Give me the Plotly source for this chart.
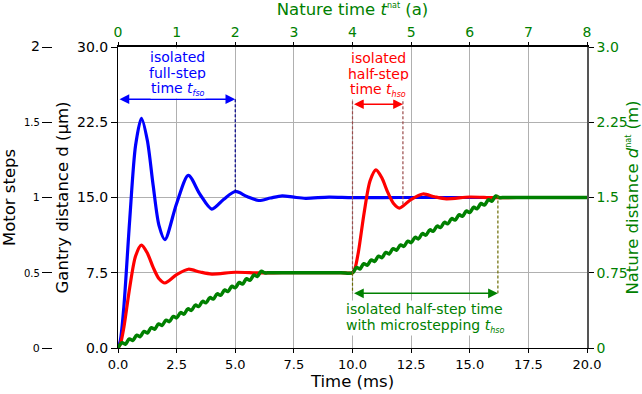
import plotly.graph_objects as go

# ---------------- data ----------------
# Blue: isolated full-step response (gantry distance, µm) vs time (ms)
blue_t = [0, 0.1, 0.25, 0.5, 0.75, 1.0, 1.25, 1.5, 1.75, 2.0, 2.5, 3.0, 3.5, 4.0, 4.5,
          5.0, 5.5, 6.0, 6.5, 7.0, 7.5, 8.0, 9.0, 10.0, 12.0, 14.0, 16.0, 18.0, 20.0]
blue_d = [0.0, 0.75, 4.1, 12.8, 20.2, 22.9, 20.7, 16.2, 12.2, 10.8, 14.4, 17.2, 15.3, 13.85, 14.8,
          15.6, 15.1, 14.7, 14.95, 15.17, 15.03, 14.92, 15.04, 14.98, 15.0, 15.0, 15.0, 15.0, 15.0]

# Red: two isolated half-steps
red_t = [0, 0.1, 0.25, 0.5, 0.75, 1.0, 1.25, 1.5, 1.75, 2.0, 2.5, 3.0, 3.5, 4.0, 5.0, 6.0, 7.0,
         8.0, 9.0, 9.5, 10.0, 10.1, 10.25, 10.5, 10.75, 11.0, 11.25, 11.5, 11.75, 12.0, 12.5, 13.0,
         13.5, 14.0, 15.0, 16.0, 17.0, 18.0, 20.0]
red_d = [0.0, 0.38, 2.05, 6.04, 9.17, 10.25, 9.46, 8.03, 6.90, 6.48, 7.31, 7.85, 7.57, 7.37, 7.55,
         7.48, 7.5, 7.5, 7.5, 7.5, 7.5, 7.88, 9.55, 13.54, 16.67, 17.75, 16.96, 15.53, 14.40, 13.95,
         14.81, 15.35, 15.07, 14.87, 15.05, 14.98, 15.0, 15.0, 15.0]

# Green: half-steps with microstepping (rippled ramps)
green_t = [0, 0.17, 0.3125, 0.48, 0.625, 0.8, 0.9375, 1.11, 1.25, 1.42, 1.5625, 1.73,
           1.875, 2.05, 2.1875, 2.36, 2.5, 2.67, 2.8125, 2.98, 3.125, 3.3, 3.4375, 3.61,
           3.75, 3.92, 4.0625, 4.23, 4.375, 4.55, 4.6875, 4.86, 5.0, 5.17, 5.3125, 5.48,
           5.625, 5.8, 5.9375, 6.11, 6.25, 6.5, 8.0, 9.5,
           10.0, 10.17, 10.3125, 10.48, 10.625, 10.8, 10.9375, 11.11, 11.25, 11.42, 11.5625,
           11.73, 11.875, 12.05, 12.1875, 12.36, 12.5, 12.67, 12.8125, 12.98, 13.125, 13.3,
           13.4375, 13.61, 13.75, 13.92, 14.0625, 14.23, 14.375, 14.55, 14.6875, 14.86, 15.0,
           15.17, 15.3125, 15.48, 15.625, 15.8, 15.9375, 16.11, 16.25, 16.5, 18.0, 20.0]
green_d = [0.0, 0.525, 0.375, 0.9, 0.75, 1.275, 1.125, 1.65, 1.5, 2.025, 1.875, 2.4,
           2.25, 2.775, 2.625, 3.15, 3.0, 3.525, 3.375, 3.9, 3.75, 4.275, 4.125, 4.65,
           4.5, 5.025, 4.875, 5.4, 5.25, 5.775, 5.625, 6.15, 6.0, 6.525, 6.375, 6.9,
           6.75, 7.275, 7.125, 7.65, 7.5, 7.5, 7.5, 7.5,
           7.5, 8.025, 7.875, 8.4, 8.25, 8.775, 8.625, 9.15, 9.0, 9.525, 9.375,
           9.9, 9.75, 10.275, 10.125, 10.65, 10.5, 11.025, 10.875, 11.4, 11.25, 11.775,
           11.625, 12.15, 12.0, 12.525, 12.375, 12.9, 12.75, 13.275, 13.125, 13.65, 13.5,
           14.025, 13.875, 14.4, 14.25, 14.775, 14.625, 15.15, 15.0, 15.0, 15.0, 15.0]

# Tick values / labels
time_ticks = [0, 2.5, 5, 7.5, 10, 12.5, 15, 17.5, 20]
time_labels = ["0.0", "2.5", "5.0", "7.5", "10.0", "12.5", "15.0", "17.5", "20.0"]
gantry_ticks = [0, 7.5, 15, 22.5, 30]
gantry_labels = ["0.0", "7.5", "15.0", "22.5", "30.0"]
nat_time_ticks = [0, 1, 2, 3, 4, 5, 6, 7, 8]
nat_dist_ticks = [0, 0.75, 1.5, 2.25, 3.0]
nat_dist_labels = ["0", "0.75", "1.5", "2.25", "3.0"]
motor_ticks = [0, 0.5, 1, 1.5, 2]
motor_labels = ["<span style='font-size:11px'>0</span>",
                "<span style='font-size:10px'>0.5</span>",
                "<span style='font-size:11px'>1</span>",
                "<span style='font-size:10px'>1.5</span>",
                "<span style='font-size:14px'>2</span>"]

# annotation anchors (data coordinates)
fso_end = 5.0
hso_start, hso_end = 10.0, 12.15
micro_end = 16.2

FONT = "DejaVu Sans"
GREEN = "#008000"

fig = go.Figure()
fig.add_trace(go.Scatter(x=blue_t, y=blue_d, mode="lines",
                         line=dict(color="#0000ff", width=3.2, shape="spline", smoothing=0.8),
                         hoverinfo="skip"))
fig.add_trace(go.Scatter(x=red_t, y=red_d, mode="lines",
                         line=dict(color="#ff0000", width=3.2, shape="spline", smoothing=0.8),
                         hoverinfo="skip"))
fig.add_trace(go.Scatter(x=green_t, y=green_d, mode="lines",
                         line=dict(color=GREEN, width=3.5, shape="spline", smoothing=1.0),
                         hoverinfo="skip"))
# invisible traces to activate secondary axes
fig.add_trace(go.Scatter(x=[0], y=[0], xaxis="x2", yaxis="y2", mode="markers",
                         marker=dict(opacity=0), hoverinfo="skip"))
fig.add_trace(go.Scatter(x=[0], y=[0], xaxis="x", yaxis="y3", mode="markers",
                         marker=dict(opacity=0), hoverinfo="skip"))

L, R, T, B = 5, 55, 47, 46
W, H = 642, 394
pw = W - L - R
x0 = (118 - L) / pw
motor_pos = (52 - L) / pw

fig.update_layout(
    width=W, height=H,
    margin=dict(l=L, r=R, t=T, b=B, autoexpand=False),
    paper_bgcolor="white", plot_bgcolor="white", showlegend=False,
    font=dict(family=FONT, color="black"),
    xaxis=dict(domain=[x0, 1], range=[0, 20], tickmode="array", tickvals=time_ticks,
               ticktext=time_labels, ticks="outside", ticklen=4, tickcolor="black",
               showline=True, linecolor="black", linewidth=1, showgrid=True,
               gridcolor="#b0b0b0", gridwidth=1, zeroline=False, automargin=False,
               tickfont=dict(size=13), anchor="y",
               title=dict(text="Time (ms)", font=dict(size=16.5), standoff=4)),
    yaxis=dict(domain=[0, 1], range=[0, 30], tickmode="array", tickvals=gantry_ticks,
               ticktext=gantry_labels, ticks="outside", ticklen=6, tickcolor="black",
               showline=True, linecolor="black", linewidth=1, showgrid=True,
               gridcolor="#b0b0b0", gridwidth=1, zeroline=False, automargin=False,
               tickfont=dict(size=14), anchor="x",
               title=dict(text="Gantry distance d (µm)", font=dict(size=16.5), standoff=4)),
    xaxis2=dict(overlaying="x", side="top", range=[0, 8], tickmode="array",
                tickvals=nat_time_ticks, ticks="outside", ticklen=3, tickcolor="black",
                showline=True, linecolor="black", linewidth=1.5, showgrid=False,
                zeroline=False, automargin=False, anchor="y",
                tickfont=dict(size=14, color=GREEN),
                title=dict(text="Nature time <i>t</i><sup><span style='font-size:8px'>nat</span></sup> (a)",
                           font=dict(size=16.5, color=GREEN), standoff=6)),
    yaxis2=dict(overlaying="y", side="right", range=[0, 3], tickmode="array",
                tickvals=nat_dist_ticks, ticktext=nat_dist_labels, ticks="outside",
                ticklen=5, tickcolor="black", showline=True, linecolor="#555555",
                linewidth=1.5, showgrid=False, zeroline=False, automargin=False,
                anchor="x", tickfont=dict(size=14, color=GREEN),
                title=dict(text="Nature distance <i>d</i><sup><span style='font-size:8px'>nat</span></sup> (m)",
                           font=dict(size=16.5, color=GREEN), standoff=3)),
    yaxis3=dict(overlaying="y", anchor="free", position=motor_pos, side="left",
                range=[0, 2], tickmode="array", tickvals=motor_ticks, ticktext=motor_labels,
                ticks="outside", ticklen=10, tickcolor="black", showline=False,
                showgrid=False, zeroline=False, automargin=False,
                tickfont=dict(size=11),
                title=dict(text="Motor steps", font=dict(size=16.5), standoff=3)),
)

# dashed guide lines
def vline(x, y0, y1, color):
    fig.add_shape(type="line", xref="x", yref="y", x0=x, x1=x, y0=y0, y1=y1,
                  line=dict(color=color, width=1.2, dash="3px,2px"))

vline(fso_end, 24.8, 15.6, "#00008b")
vline(hso_start, 25.1, 7.5, "#9a4a4a")
vline(hso_end, 25.1, 14.2, "#9a4a4a")
vline(hso_start, 7.5, 5.45, "#6b6b00")
vline(micro_end, 15.2, 5.45, "#6b6b00")

# double-headed arrows
def darrow(xa, xb, y, color):
    fig.add_annotation(x=xb, y=y, ax=xa, ay=y, xref="x", yref="y", axref="x", ayref="y",
                       text="", showarrow=True, arrowhead=2, arrowsize=1.3, arrowwidth=1.5,
                       arrowside="end+start", arrowcolor=color)

darrow(0, fso_end, 24.8, "#0000ff")
darrow(hso_start, hso_end, 24.3, "#ff0000")
darrow(hso_start, micro_end, 5.45, GREEN)

def label(x, y, txt, color):
    fig.add_annotation(x=x, y=y, xref="x", yref="y", text=txt, showarrow=False,
                       font=dict(size=14, color=color, family=FONT), bgcolor="white",
                       borderpad=0, xanchor="center", yanchor="middle")

sub = "<sub><span style='font-size:8px'><i>{}</i></span></sub>"
label(2.55, 28.98, "isolated", "#0000ff")
label(2.55, 27.39, "full-step", "#0000ff")
label(2.55, 25.79, "time <i>t</i>" + sub.format("fso"), "#0000ff")
label(11.1, 28.88, "isolated", "#ff0000")
label(11.1, 27.29, "half-step", "#ff0000")
label(11.1, 25.72, "time <i>t</i>" + sub.format("hso"), "#ff0000")
label(13.08, 3.89, "isolated half-step time", GREEN)
label(13.08, 2.19, "with microstepping <i>t</i>" + sub.format("hso"), GREEN)

fig.write_html("out.html")
